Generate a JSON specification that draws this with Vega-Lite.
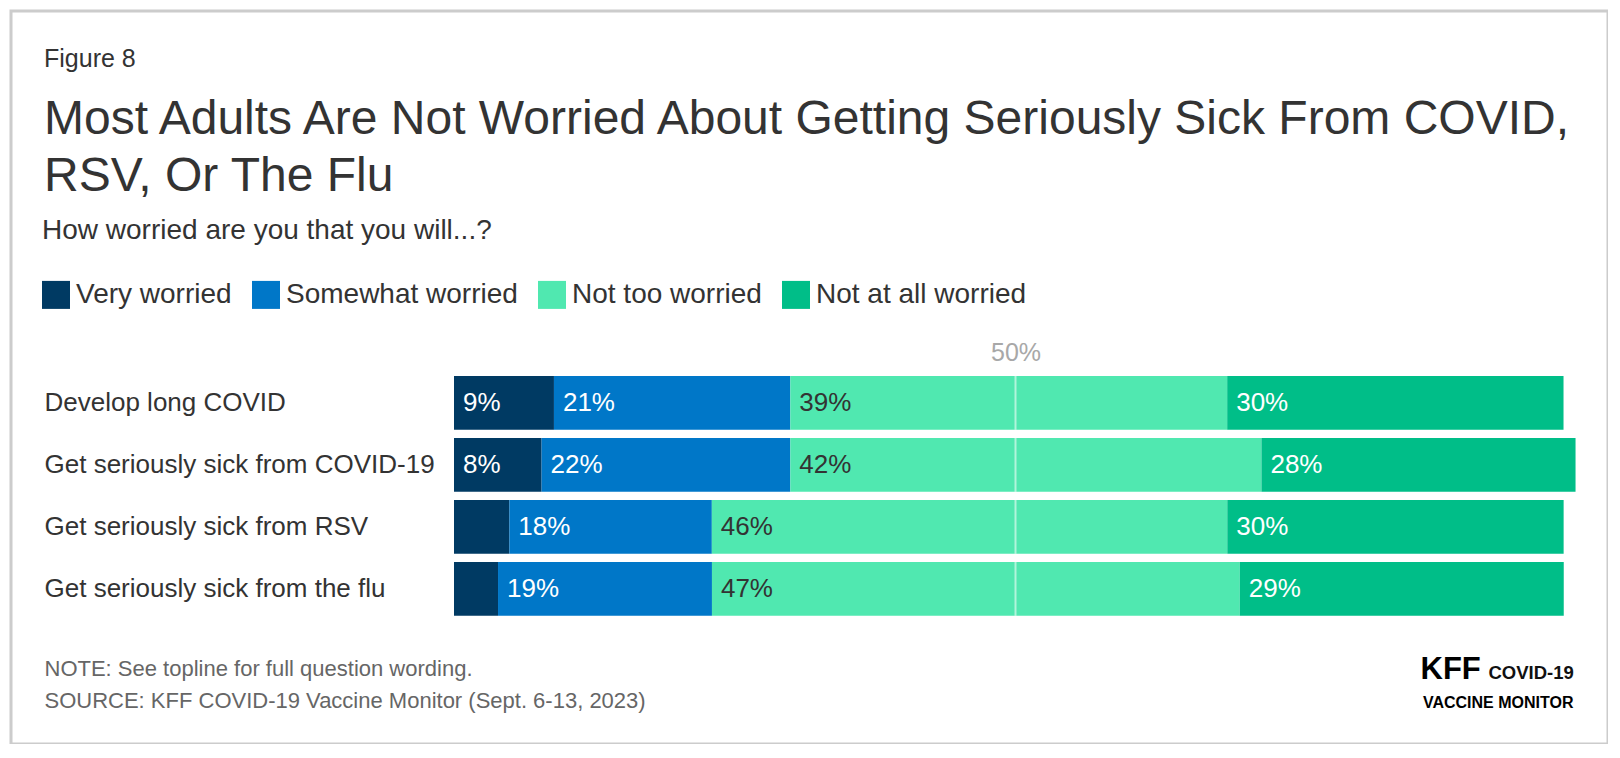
{
  "$schema": "https://vega.github.io/schema/vega-lite/v6.json",
  "width": 1597,
  "height": 733,
  "autosize": {"type": "none"},
  "padding": {"left": 11, "top": 11, "right": 0, "bottom": 0},
  "background": "white",
  "title": {
    "text": "Figure 8",
    "subtitle": ["Most Adults Are Not Worried About Getting Seriously Sick From COVID,", "RSV, Or The Flu"],
    "anchor": "start",
    "frame": "group",
    "orient": "top",
    "dx": 33,
    "offset": -190,
    "font": "Liberation Sans",
    "fontSize": 25,
    "fontWeight": "normal",
    "color": "#333333",
    "subtitleFont": "Liberation Sans",
    "subtitleFontSize": 48,
    "subtitleColor": "#333333",
    "subtitleLineHeight": 57,
    "subtitlePadding": 24
  },
  "data": {
    "values": [
      {"question": "Develop long COVID", "response": "Very worried", "value": 8.9},
      {"question": "Develop long COVID", "response": "Somewhat worried", "value": 21.05},
      {"question": "Develop long COVID", "response": "Not too worried", "value": 38.9},
      {"question": "Develop long COVID", "response": "Not at all worried", "value": 29.95},
      {"question": "Get seriously sick from COVID-19", "response": "Very worried", "value": 7.8},
      {"question": "Get seriously sick from COVID-19", "response": "Somewhat worried", "value": 22.15},
      {"question": "Get seriously sick from COVID-19", "response": "Not too worried", "value": 41.95},
      {"question": "Get seriously sick from COVID-19", "response": "Not at all worried", "value": 27.97},
      {"question": "Get seriously sick from RSV", "response": "Very worried", "value": 4.93},
      {"question": "Get seriously sick from RSV", "response": "Somewhat worried", "value": 18.03},
      {"question": "Get seriously sick from RSV", "response": "Not too worried", "value": 45.9},
      {"question": "Get seriously sick from RSV", "response": "Not at all worried", "value": 29.95},
      {"question": "Get seriously sick from the flu", "response": "Very worried", "value": 3.92},
      {"question": "Get seriously sick from the flu", "response": "Somewhat worried", "value": 19.05},
      {"question": "Get seriously sick from the flu", "response": "Not too worried", "value": 47.0},
      {"question": "Get seriously sick from the flu", "response": "Not at all worried", "value": 28.85}
    ]
  },
  "transform": [
    {"calculate": "indexof(['Very worried','Somewhat worried','Not too worried','Not at all worried'], datum.response)", "as": "order"},
    {"stack": "value", "groupby": ["question"], "sort": [{"field": "order", "order": "ascending"}], "as": ["x0", "x1"]}
  ],
  "layer": [
    {
      "mark": {"type": "bar"},
      "encoding": {
        "x": {
          "field": "x0",
          "type": "quantitative",
          "scale": {"domain": [0, 100], "range": [443, 1566], "nice": false, "zero": false},
          "axis": {
            "orient": "top",
            "values": [50],
            "labelExpr": "datum.value + '%'",
            "labelColor": "#a8a8a8",
            "labelFontSize": 25,
            "labelBaseline": "alphabetic",
            "labelPadding": 0,
            "labelFlush": false,
            "tickSize": 0,
            "ticks": false,
            "domain": false,
            "grid": false,
            "offset": -349.5,
            "title": "COVID-19",
            "titleFontSize": 18.5,
            "titleFontWeight": "bold",
            "titleColor": "#111111",
            "titleAngle": 0,
            "titleAlign": "left",
            "titleBaseline": "alphabetic",
            "titleX": 1477,
            "titleY": 318
          }
        },
        "x2": {"field": "x1"},
        "y": {
          "field": "question",
          "type": "nominal",
          "sort": ["Develop long COVID", "Get seriously sick from COVID-19", "Get seriously sick from RSV", "Get seriously sick from the flu"],
          "scale": {"range": [365, 604.7], "paddingInner": 0.134, "paddingOuter": 0},
          "axis": {
            "orient": "left",
            "offset": -33,
            "labelAlign": "left",
            "labelPadding": 0,
            "tickSize": 0,
            "ticks": false,
            "domain": false,
            "grid": false,
            "labelFontSize": 26,
            "labelColor": "#333333",
            "labelLimit": 600,
            "title": "KFF",
            "titleAngle": 0,
            "titleAlign": "left",
            "titleBaseline": "alphabetic",
            "titleX": 1376,
            "titleY": 667,
            "titleFontSize": 31,
            "titleFontWeight": "bold",
            "titleColor": "#000000"
          }
        },
        "color": {
          "field": "response",
          "type": "nominal",
          "scale": {
            "domain": ["Very worried", "Somewhat worried", "Not too worried", "Not at all worried"],
            "range": ["#003a63", "#0077c8", "#50e8b0", "#00be88"]
          },
          "legend": {
            "orient": "none",
            "legendX": 31,
            "legendY": 205.9,
            "direction": "horizontal",
            "title": "How worried are you that you will...?",
            "titleFontSize": 28,
            "titleFontWeight": "normal",
            "titleColor": "#333333",
            "titleOrient": "top",
            "titleAnchor": "start",
            "titleLimit": 1200,
            "titlePadding": 36,
            "symbolType": "square",
            "symbolSize": 784,
            "symbolStrokeWidth": 0,
            "symbolOpacity": 1,
            "labelFontSize": 28,
            "labelColor": "#333333",
            "labelOffset": 6,
            "labelLimit": 500,
            "columnPadding": 20,
            "padding": 0
          }
        }
      }
    },
    {
      "transform": [{"filter": "datum.response === 'Very worried'"}],
      "mark": {"type": "tick", "color": "white", "opacity": 0.55, "thickness": 2, "size": 54},
      "encoding": {
        "x": {
          "datum": 50,
          "type": "quantitative",
          "axis": {
            "orient": "bottom",
            "values": [100],
            "labelExpr": "'VACCINE MONITOR'",
            "labelAlign": "right",
            "labelBaseline": "alphabetic",
            "labelFontSize": 16,
            "labelFontWeight": "bold",
            "labelColor": "#000000",
            "labelPadding": 0,
            "labelOffset": -4,
            "labelFlush": false,
            "tickSize": 0,
            "ticks": false,
            "domain": false,
            "grid": false,
            "offset": -37,
            "title": ["NOTE: See topline for full question wording.", "SOURCE: KFF COVID-19 Vaccine Monitor (Sept. 6-13, 2023)"],
            "titleFontSize": 22,
            "titleFontWeight": "normal",
            "titleColor": "#666666",
            "titleAngle": 0,
            "titleAlign": "left",
            "titleBaseline": "alphabetic",
            "titleX": 33,
            "titleY": -31.5,
            "titleLineHeight": 32
          }
        },
        "y": {
          "field": "question",
          "type": "nominal",
          "sort": ["Develop long COVID", "Get seriously sick from COVID-19", "Get seriously sick from RSV", "Get seriously sick from the flu"]
        }
      }
    },
    {
      "transform": [
        {"filter": "datum.value >= 6"},
        {"calculate": "round(datum.value) + '%'", "as": "lbl"}
      ],
      "mark": {"type": "text", "align": "left", "baseline": "middle", "dx": 9, "fontSize": 26},
      "encoding": {
        "x": {"field": "x0", "type": "quantitative", "axis": null},
        "y": {
          "field": "question",
          "type": "nominal",
          "sort": ["Develop long COVID", "Get seriously sick from COVID-19", "Get seriously sick from RSV", "Get seriously sick from the flu"]
        },
        "text": {"field": "lbl"},
        "color": {
          "condition": {"test": "datum.response === 'Not too worried'", "value": "#333333"},
          "value": "#ffffff"
        }
      }
    }
  ],
  "resolve": {"axis": {"x": "independent"}},
  "config": {
    "font": "Liberation Sans",
    "view": {"stroke": "#cccccc", "strokeWidth": 3},
    "axis": {"labelFont": "Liberation Sans", "titleFont": "Liberation Sans"},
    "legend": {"labelFont": "Liberation Sans", "titleFont": "Liberation Sans"}
  }
}
